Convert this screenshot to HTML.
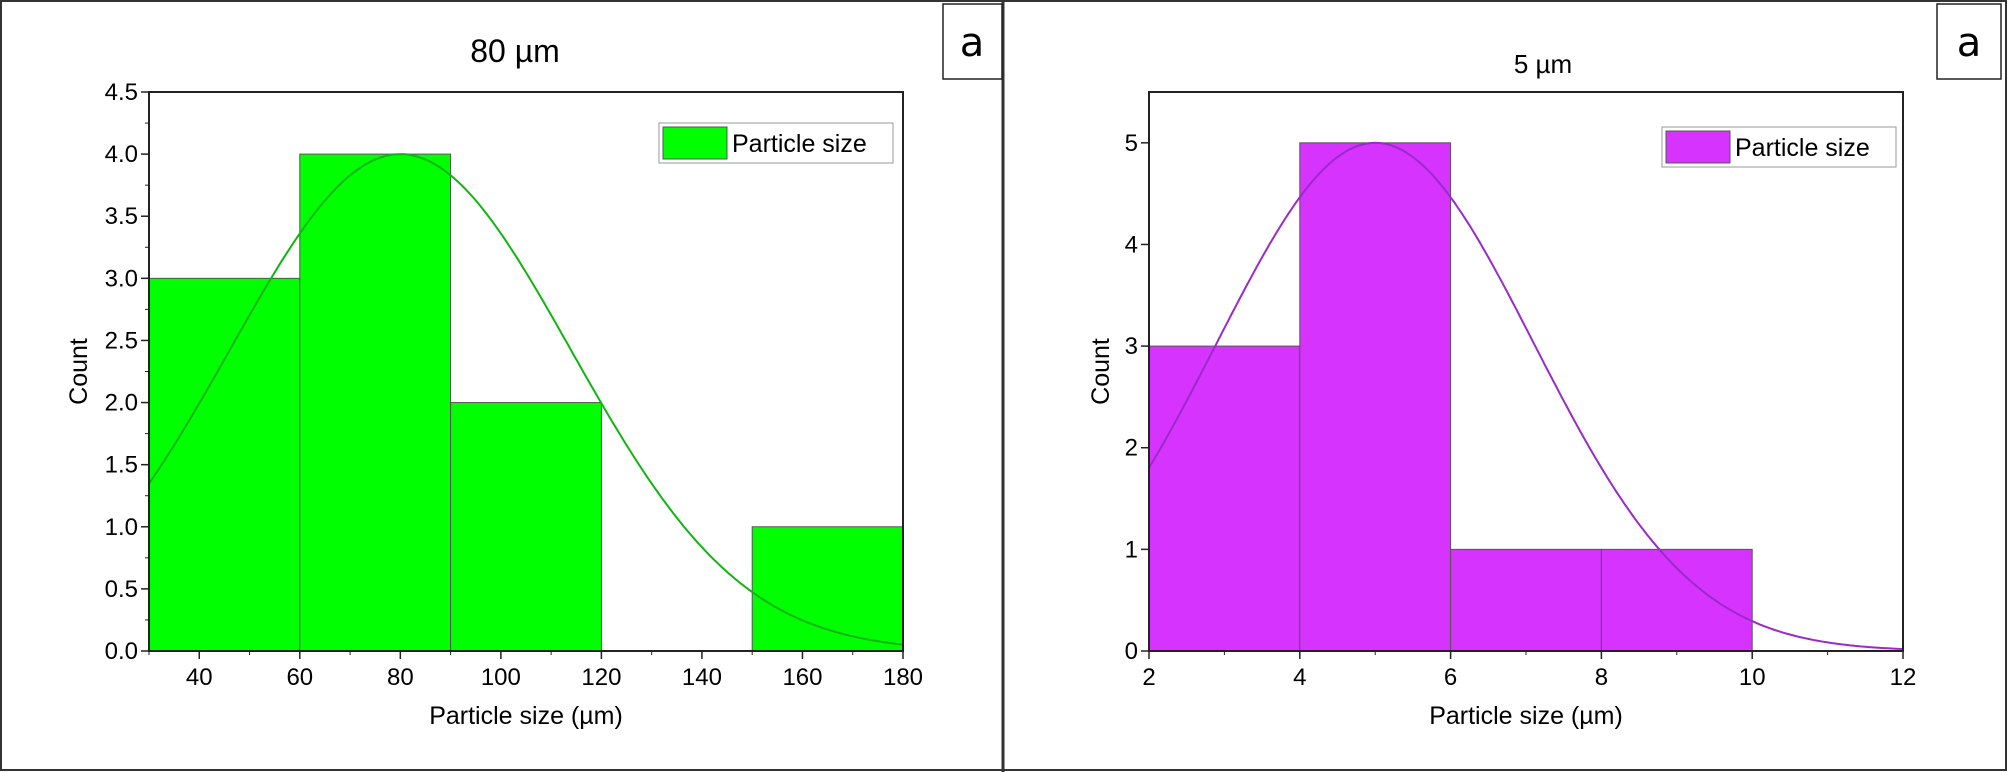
<!DOCTYPE html>
<html><head><meta charset="utf-8"><style>
body{margin:0;background:#fff;}
svg{display:block;font-family:"Liberation Sans",sans-serif;}
</style></head><body>
<svg id="fig" width="2008" height="772" viewBox="0 0 2008 772">
<rect x="1" y="1" width="2005" height="769" fill="none" stroke="#333" stroke-width="2"/>
<line x1="1003" y1="0" x2="1003" y2="772" stroke="#333" stroke-width="3"/>
<g><rect x="943" y="4" width="59" height="75" fill="#fff" stroke="#222" stroke-width="1.5"/><text x="972" y="56" font-size="40" text-anchor="middle" font-family="DejaVu Sans,sans-serif">a</text></g>
<g><rect x="1937" y="4" width="64" height="75" fill="#fff" stroke="#222" stroke-width="1.5"/><text x="1969" y="56" font-size="40" text-anchor="middle" font-family="DejaVu Sans,sans-serif">a</text></g>
<g id="left"></g><g id="right"></g>
</svg>
<script>
// Left chart data
const leftBinEdges=[30,60,90,120,150,180];
const leftCounts=[3,4,2,0,1];
const leftFit=[80,33.9,4]; // mean, sigma, amplitude
const leftYTicks=["0.0","0.5","1.0","1.5","2.0","2.5","3.0","3.5","4.0","4.5"];
const leftXTicks=[40,60,80,100,120,140,160,180];
// Right chart data
const rightBinEdges=[2,4,6,8,10,12];
const rightCounts=[3,5,1,1,0];
const rightFit=[5,2.1,5];
const rightYTicks=["0","1","2","3","4","5"];
const rightXTicks=[2,4,6,8,10,12];

const NS="http://www.w3.org/2000/svg";
function el(parent,tag,attrs,text){const e=document.createElementNS(NS,tag);for(const k in attrs)e.setAttribute(k,attrs[k]);if(text!==undefined)e.textContent=text;parent.appendChild(e);return e;}

function draw(g,cfg){
 const {L,R,T,B,xmin,xmax,ymin,ymax,edges,counts,fit,yt,xt,yMinor,xMinor,fill,line,title,titleX,titleSize,legX,legY,legW}=cfg;
 const sx=v=>L+(v-xmin)/(xmax-xmin)*(R-L);
 const sy=v=>B-(v-ymin)/(ymax-ymin)*(B-T);
 for(let i=0;i<counts.length;i++){ if(counts[i]<=0)continue;
  const r=el(g,'rect',{x:sx(edges[i]),y:sy(counts[i]),width:sx(edges[i+1])-sx(edges[i]),height:B-sy(counts[i]),fill:fill,stroke:'#555','stroke-width':1});
  
  
 }
 let d='';
 for(let k=0;k<=200;k++){const x=xmin+(xmax-xmin)*k/200;const y=fit[2]*Math.exp(-Math.pow(x-fit[0],2)/(2*fit[1]*fit[1]));d+=(k?'L':'M')+sx(x).toFixed(1)+','+sy(y).toFixed(1);}
 const p=el(g,'path',{d:d,fill:'none',stroke:line,'stroke-width':2});
 
 
 const fr=el(g,'rect',{x:L,y:T,width:R-L,height:B-T,fill:'none',stroke:'#222','stroke-width':2});
 
 
 yt.forEach(t=>{const v=parseFloat(t);el(g,'line',{x1:L-8,x2:L,y1:sy(v),y2:sy(v),stroke:'#222','stroke-width':1.5});
  const tx=el(g,'text',{x:L-11,y:sy(v)+8,'font-size':24,'text-anchor':'end'},t);
  
  });
 if(yMinor){for(let v=ymin;v<=ymax;v+=yMinor)el(g,'line',{x1:L-4,x2:L,y1:sy(v),y2:sy(v),stroke:'#222','stroke-width':1});}
 xt.forEach(v=>{el(g,'line',{x1:sx(v),x2:sx(v),y1:B,y2:B+8,stroke:'#222','stroke-width':1.5});
  const tx=el(g,'text',{x:sx(v),y:B+34,'font-size':24,'text-anchor':'middle'},String(v));
  
  });
 if(xMinor){for(let v=xmin;v<=xmax;v+=xMinor)el(g,'line',{x1:sx(v),x2:sx(v),y1:B,y2:B+4,stroke:'#222','stroke-width':1});}
 const xl=el(g,'text',{x:(L+R)/2,y:B+73,'font-size':25,'text-anchor':'middle'},'Particle size (µm)');
 
 
 const yl=el(g,'text',{x:0,y:0,'font-size':25,'text-anchor':'middle',transform:`translate(${L-cfg.yLabOff},${(T+B)/2}) rotate(-90)`},'Count');
 
 
 const ti=el(g,'text',{x:titleX,y:cfg.titleY,'font-size':titleSize,'text-anchor':'middle'},title);
 
 
 const lg=el(g,'g',{});
 
 
 el(lg,'rect',{x:legX,y:legY,width:legW,height:40,fill:'#fff',stroke:'#999','stroke-width':1});
 el(lg,'rect',{x:legX+4,y:legY+4,width:64,height:32,fill:fill,stroke:'#555','stroke-width':1});
 el(lg,'text',{x:legX+73,y:legY+29,'font-size':25},'Particle size');
}
draw(document.getElementById('left'),{L:149,R:903,T:92,B:651,xmin:30,xmax:180,ymin:0,ymax:4.5,edges:leftBinEdges,counts:leftCounts,fit:leftFit,yt:leftYTicks,xt:leftXTicks,yMinor:0.25,xMinor:10,fill:'#00ff00',line:'#11b511',title:'80 µm',titleX:515,titleY:62,titleSize:32,legX:659,legY:123,legW:234,yLabOff:62});
draw(document.getElementById('right'),{L:1149,R:1903,T:92,B:651,xmin:2,xmax:12,ymin:0,ymax:5.5,edges:rightBinEdges,counts:rightCounts,fit:rightFit,yt:rightYTicks,xt:rightXTicks,yMinor:0,xMinor:1,fill:'#d633ff',line:'#9a2bc6',title:'5 µm',titleX:1543,titleY:73,titleSize:26,legX:1662,legY:127,legW:234,yLabOff:40});
</script>
</body></html>
